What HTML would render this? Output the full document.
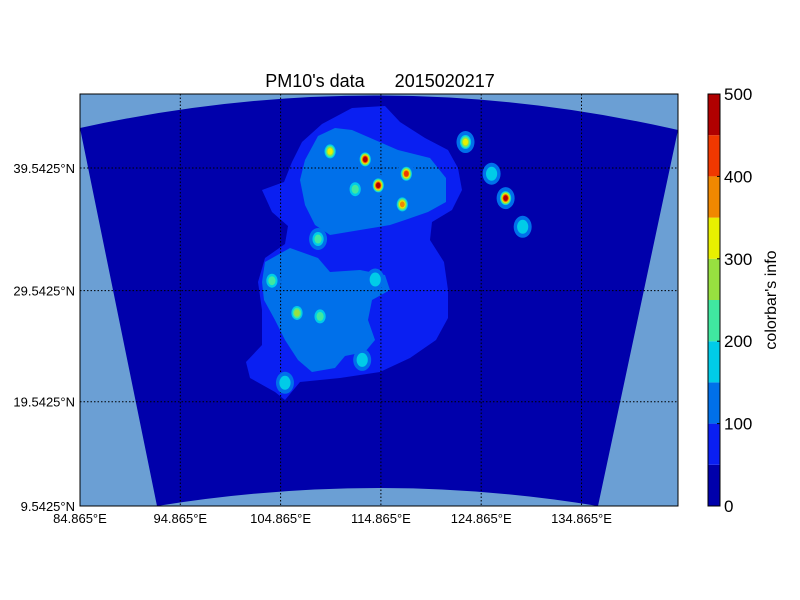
<!DOCTYPE html>
<html><head><meta charset="utf-8"><style>
html,body{margin:0;padding:0;background:#fff;}
svg{display:block;font-family:"Liberation Sans",sans-serif;}
</style></head><body>
<svg id="chart" width="800" height="600" xmlns="http://www.w3.org/2000/svg">
<text x="380" y="87" font-size="18" text-anchor="middle" style="white-space:pre" xml:space="preserve">PM10's data      2015020217</text>
<rect x="80" y="94" width="598" height="412" fill="#6b9fd4"/>
<path d="M80,128 Q380,62 678,130 L598,506 Q380,470 157,506 Z" fill="#0000ab"/>
<path d="M352,108 L385,106 L400,122 L425,138 L448,150 L458,168 L462,190 L452,210 L432,222 L430,240 L444,262 L448,290 L448,318 L436,340 L410,358 L380,372 L340,378 L300,382 L285,400 L275,392 L250,378 L246,362 L262,345 L262,310 L258,282 L265,258 L285,244 L288,226 L272,212 L262,190 L284,182 L292,162 L302,142 L322,124 Z" fill="#0a1ff2"/>
<path d="M318,136 L335,128 L352,130 L375,140 L398,150 L430,158 L446,178 L446,202 L428,212 L405,220 L390,225 L360,230 L330,235 L315,225 L305,205 L300,180 L305,160 Z" fill="#0070ea"/>
<path d="M265,262 L290,248 L318,258 L330,272 L360,270 L385,275 L390,290 L372,300 L368,320 L375,340 L365,352 L345,356 L335,368 L312,372 L298,360 L285,340 L275,320 L264,300 L262,282 Z" fill="#0070ea"/>
<g id="grid"></g>
<g id="spots"></g>
<rect x="80" y="94" width="598" height="412" fill="none" stroke="#000" stroke-width="1"/>
<g id="xticks"></g>
<g id="yticks"></g>
<g id="cbar"></g>
<text x="776" y="300" font-size="16" text-anchor="middle" transform="rotate(-90 776 300)">colorbar's info</text>
</svg>
<script>
const levels=[0,50,100,150,200,250,300,350,400,450,500];
const levelColors=["#0000ab","#0a1ff2","#0070ea","#00cce8","#40e8a0","#98e040","#e8f000","#f08800","#f03800","#b00000"];
const cbarTicks=[0,100,200,300,400,500];
const lonTicks=[84.865,94.865,104.865,114.865,124.865,134.865];
const latTicks=[9.5425,19.5425,29.5425,39.5425];
const spotLon=[109.8,113.3,114.6,117.4,112.3,117.0,123.3,125.9,127.3,129.0,108.6,104.0,106.5,108.8,113.0,105.3,114.3];
const spotLat=[40.8,40.2,38.2,39.1,37.9,36.7,41.5,39.1,37.2,34.9,33.9,30.4,27.6,27.3,23.4,21.3,30.5];
const spotVal=[300,450,480,420,230,370,320,180,450,170,230,240,270,230,190,180,180];
const NS="http://www.w3.org/2000/svg";
function merc(lat){const r=lat*Math.PI/180;return Math.log(Math.tan(Math.PI/4+r/2));}
function xOf(lon){return 80+(lon-84.865)*10.03;}
const m0=merc(9.5425),sc=338/(merc(39.5425)-m0);
function yOf(lat){return 506-(merc(lat)-m0)*sc;}
function mk(tag,attrs,parent){const e=document.createElementNS(NS,tag);for(const k in attrs)e.setAttribute(k,attrs[k]);parent.appendChild(e);return e;}
const grid=document.getElementById('grid');
lonTicks.forEach((lon,i)=>{if(i===0)return;const x=xOf(lon);
 const l=mk('line',{x1:x,x2:x,y1:94,y2:506,stroke:'#000','stroke-dasharray':'1.5,2','stroke-width':1},grid);
 
 });
latTicks.forEach((lat,i)=>{if(i===0)return;const y=yOf(lat);
 const l=mk('line',{x1:80,x2:678,y1:y,y2:y,stroke:'#000','stroke-dasharray':'1.5,2','stroke-width':1},grid);
 
 });
const xt=document.getElementById('xticks');
lonTicks.forEach(lon=>{const t=mk('text',{x:xOf(lon),y:523,'font-size':13,'text-anchor':'middle'},xt);t.textContent=lon+'°E';
 
 });
const yt=document.getElementById('yticks');
latTicks.forEach(lat=>{const t=mk('text',{x:75,y:yOf(lat)+5,'font-size':13,'text-anchor':'end'},yt);t.textContent=lat+'°N';
 
 });
const spots=document.getElementById('spots');
spotVal.forEach((v,i)=>{const cx=xOf(spotLon[i]),cy=yOf(spotLat[i]);
 const h2=mk('ellipse',{cx:cx,cy:cy,rx:9,ry:11,fill:levelColors[2]},spots);
 
 });
spotVal.forEach((v,i)=>{const cx=xOf(spotLon[i]),cy=yOf(spotLat[i]);
 let n=0;for(let k=3;k<levelColors.length;k++){if(v>=levels[k])n=k;}
 for(let k=3;k<=n;k++){const r=7-(k-3)*(5/Math.max(1,n-2));
  const c=mk('ellipse',{cx:cx,cy:cy,rx:Math.max(1.5,r*0.8),ry:Math.max(1.8,r),fill:levelColors[k]},spots);
  
  }});
const cb=document.getElementById('cbar');
const cbTop=94,cbBot=506,cbX=708,cbW=12;
function cbY(v){return cbBot-(v-levels[0])/(levels[levels.length-1]-levels[0])*(cbBot-cbTop);}
for(let k=0;k<levelColors.length;k++){
 const r=mk('rect',{x:cbX,y:cbY(levels[k+1]),width:cbW,height:cbY(levels[k])-cbY(levels[k+1]),fill:levelColors[k]},cb);
 
 }
mk('rect',{x:cbX,y:cbTop,width:cbW,height:cbBot-cbTop,fill:'none',stroke:'#000'},cb);
cbarTicks.forEach(v=>{const y=cbY(v);
 mk('line',{x1:cbX+cbW-3,x2:cbX+cbW,y1:y,y2:y,stroke:'#000'},cb);
 const t=mk('text',{x:724,y:y+6,'font-size':17},cb);t.textContent=v;
 
 });
</script>
</body></html>
